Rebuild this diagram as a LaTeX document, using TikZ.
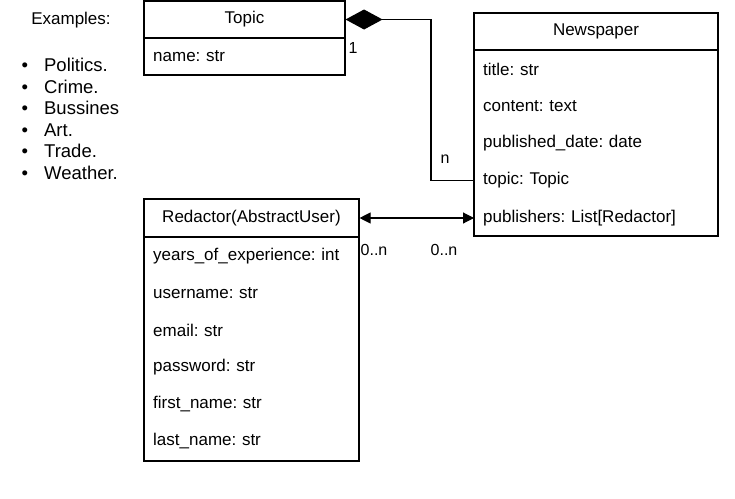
\documentclass[tikz,border=0pt]{standalone}
\usepackage{fontspec}
\setmainfont{Liberation Sans}
\usetikzlibrary{arrows.meta}
\frenchspacing
\begin{document}
\begin{tikzpicture}[x=1pt,y=-1pt,
  every node/.style={font=\fontsize{17}{20}\selectfont\frenchspacing, inner sep=0pt},
  box/.style={draw, line width=1.1pt, rectangle},
  rowtxt/.style={rectangle, minimum height=37pt, inner xsep=9pt, align=left, anchor=west},
  lbl/.style={font=\fontsize{16}{18}\selectfont},
  item/.style={anchor=base west, font=\fontsize{18.5}{21}\selectfont},
  conn/.style={line width=1.1pt}
]
\useasboundingbox (0,0) rectangle (735,498);

% Examples list
\node (ex) at (71,20) {Examples:};
\foreach \t [count=\i] in {Politics., Crime., Bussines, Art., Trade., Weather.} {
  \node[item] (e\i) at (21.5,{71.5+(\i-1)*21.5}) {\textbullet\hskip 16pt\t};
}

% Topic
\node[box, minimum width=201pt, minimum height=37pt] (topichead) at (244.5,19.5) {Topic};
\node[box, minimum width=201pt, minimum height=37pt] (topicbody) at (244.5,56.5) {};
\node[rowtxt, text width=183pt] (tname) at (144,56.5) {name: str};

% Newspaper
\node[box, minimum width=244pt, minimum height=37pt] (nphead) at (596,31.5) {Newspaper};
\node[box, minimum width=244pt, minimum height=186pt] (npbody) at (596,143) {};
\node[rowtxt, text width=226pt] (nptitle) at (474,69) {title: str};
\node[rowtxt, text width=226pt] (npcontent) at (474,106) {content: text};
\node[rowtxt, text width=226pt] (npdate) at (474,143) {published\_date: date};
\node[rowtxt, text width=226pt] (nptopic) at (474,180.5) {topic: Topic};
\node[rowtxt, text width=226pt] (nppub) at (474,218) {publishers: List[Redactor]};

% Redactor
\node[box, minimum width=215pt, minimum height=38pt] (redhead) at (251.5,218) {Redactor(AbstractUser)};
\node[box, minimum width=215pt, minimum height=224pt] (redbody) at (251.5,349) {};
\node[rowtxt, text width=197pt] (ryears) at (144,256.5) {years\_of\_experience: int};
\node[rowtxt, text width=197pt] (ruser) at (144,293.5) {username: str};
\node[rowtxt, text width=197pt] (remail) at (144,330.5) {email: str};
\node[rowtxt, text width=197pt] (rpass) at (144,367.5) {password: str};
\node[rowtxt, text width=197pt] (rfirst) at (144,404.5) {first\_name: str};
\node[rowtxt, text width=197pt] (rlast) at (144,441.5) {last\_name: str};

% Composition Topic -- Newspaper
\coordinate (bend) at (431,19.5);
\draw[conn, {Diamond[length=37pt,width=20pt]}-] (topichead.east) -- (bend) |- (nptopic.west);
\node[lbl] (one) at (353,48) {1};
\node[lbl] (many) at (445,159) {n};

% Many-to-many Redactor -- Newspaper
\draw[conn, {Triangle[length=11pt,width=11pt]}-{Triangle[length=11pt,width=11pt]}] (redhead.east) -- (nppub.west);
\node[lbl] (m1) at (374,250) {0..n};
\node[lbl] (m2) at (444,250) {0..n};
\end{tikzpicture}
\end{document}
